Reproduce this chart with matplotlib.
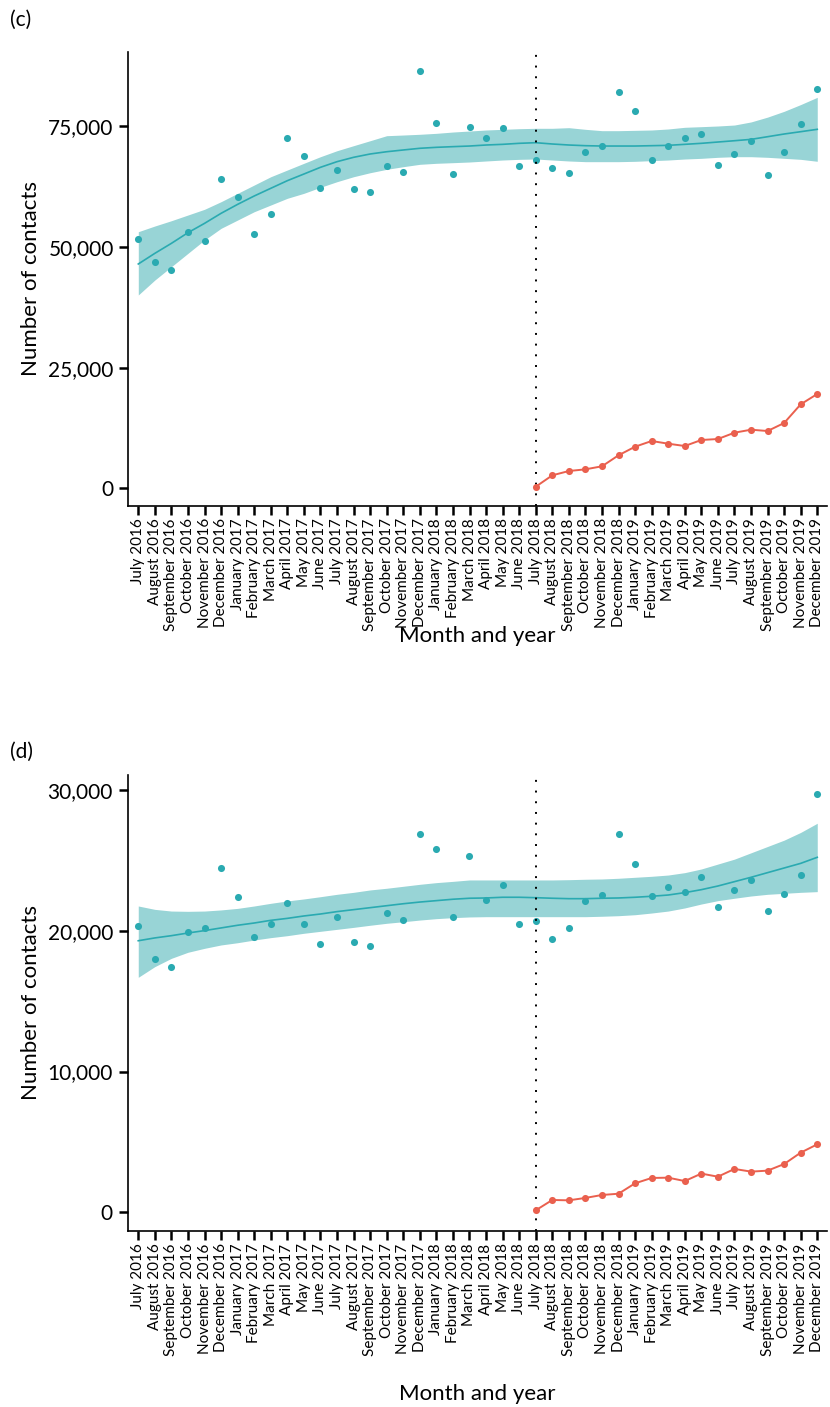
import matplotlib
matplotlib.use("Agg")
import matplotlib.pyplot as plt
from matplotlib.ticker import FuncFormatter
from matplotlib.transforms import ScaledTranslation

plt.rcParams['font.family'] = ['Lato', 'DejaVu Sans']

months = ["July 2016", "August 2016", "September 2016", "October 2016", "November 2016",
          "December 2016", "January 2017", "February 2017", "March 2017", "April 2017",
          "May 2017", "June 2017", "July 2017", "August 2017", "September 2017",
          "October 2017", "November 2017", "December 2017", "January 2018", "February 2018",
          "March 2018", "April 2018", "May 2018", "June 2018", "July 2018", "August 2018",
          "September 2018", "October 2018", "November 2018", "December 2018", "January 2019",
          "February 2019", "March 2019", "April 2019", "May 2019", "June 2019", "July 2019",
          "August 2019", "September 2019", "October 2019", "November 2019", "December 2019"]
cut_month = "July 2018"

# Panel (c)
c_points = [51590, 46820, 45290, 53030, 51300, 64080, 60290, 52620, 56830, 72640,
            68780, 62150, 65880, 61940, 61380, 66770, 65460, 86390, 75740, 65170,
            74790, 72640, 74700, 66770, 68010, 66360, 65380, 69730, 70910, 82040,
            78170, 68010, 70980, 72640, 73340, 66910, 69320, 72010, 64910, 69610,
            75410, 82790]
c_fit = [46470, 48680, 50750, 52960, 54890, 56970, 58830, 60560, 62150, 63730,
         65110, 66500, 67670, 68570, 69260, 69730, 70090, 70440, 70640, 70780,
         70910, 71120, 71260, 71470, 71600, 71330, 71120, 70980, 70910, 70910,
         70910, 70980, 71050, 71260, 71470, 71740, 72010, 72290, 72840, 73400,
         73880, 74370]
c_upper = [53160, 54340, 55440, 56620, 57800, 59380, 61110, 62830, 64550, 65940,
           67330, 68700, 69940, 70980, 72010, 73050, 73190, 73340, 73540, 73810,
           74020, 74230, 74370, 74500, 74580, 74580, 74710, 74370, 74090, 74090,
           74160, 74230, 74440, 74790, 74920, 75060, 75260, 75900, 76900, 78100,
           79500, 81000]
c_lower = [40050, 43150, 45910, 48680, 51440, 53860, 55580, 57300, 58690, 60080,
           61110, 62360, 63520, 64550, 65380, 66080, 66630, 67120, 67330, 67460,
           67600, 67810, 68010, 68150, 68220, 68010, 67810, 67670, 67670, 67670,
           67740, 67880, 68010, 68220, 68360, 68570, 68700, 68700, 68570, 68360,
           68150, 67750]
c_red = [330, 2690, 3580, 3930, 4560, 6840, 8620, 9800, 9240, 8760, 10010, 10210,
         11520, 12140, 11870, 13530, 17400, 19540]

# Panel (d)
d_points = [20330, 17980, 17460, 19950, 20180, 24450, 22430, 19550, 20470, 21980,
            20510, 19070, 20970, 19210, 18900, 21300, 20750, 26890, 25820, 21010,
            25350, 22170, 23260, 20470, 20730, 19450, 20180, 22130, 22550, 26870,
            24730, 22480, 23120, 22740, 23830, 21700, 22910, 23620, 21440, 22600,
            23950, 29710]
d_fit = [19300, 19500, 19660, 19850, 20020, 20210, 20400, 20560, 20750, 20890,
         21060, 21200, 21370, 21510, 21650, 21790, 21930, 22050, 22150, 22250,
         22320, 22340, 22390, 22390, 22360, 22320, 22290, 22290, 22320, 22340,
         22390, 22460, 22550, 22720, 22930, 23190, 23500, 23810, 24140, 24470,
         24800, 25230]
d_upper = [21770, 21530, 21410, 21390, 21410, 21490, 21600, 21770, 21960, 22130,
           22270, 22430, 22600, 22740, 22910, 23030, 23170, 23310, 23430, 23520,
           23620, 23620, 23620, 23620, 23620, 23620, 23640, 23670, 23690, 23740,
           23810, 23880, 23970, 24140, 24400, 24750, 25100, 25550, 26000, 26450,
           27000, 27650]
d_lower = [16700, 17460, 18050, 18480, 18760, 19000, 19160, 19350, 19520, 19660,
           19830, 19970, 20110, 20250, 20400, 20540, 20650, 20770, 20870, 20940,
           20990, 21010, 21010, 21010, 21010, 21010, 21010, 21010, 21040, 21080,
           21150, 21270, 21410, 21630, 21910, 22150, 22320, 22480, 22600, 22670,
           22740, 22790]
d_red = [140, 875, 850, 1020, 1230, 1320, 2060, 2440, 2460, 2220, 2750, 2530,
         3080, 2890, 2960, 3430, 4240, 4830]

c_yticks = [0, 25000, 50000, 75000]
d_yticks = [0, 10000, 20000, 30000]

TEAL = '#2AAAB1'
BAND = '#98D4D6'
RED = '#EA604E'

W, H = 830, 1407
fig = plt.figure(figsize=(W / 100, H / 100), dpi=100)


def px_axes(left, right, top, bottom):
    return fig.add_axes([left / W, 1 - bottom / H, (right - left) / W, (bottom - top) / H])


def draw(ax, pts, fit, lo, up, red, yticks, ylim, xlim, xlab_y):
    x = list(range(len(months)))
    cut = months.index(cut_month)
    xr = list(range(cut, cut + len(red)))
    ax.fill_between(x, lo, up, color=BAND, linewidth=0, zorder=1)
    ax.plot(x, fit, color=TEAL, lw=1.2, zorder=2)
    ax.scatter(x, pts, s=26, color=TEAL, linewidths=0, zorder=3)
    ax.axvline(cut, color='black', lw=1.4, linestyle=(0, (1, 4.5)), zorder=4)
    ax.plot(xr, red, color=RED, lw=1.4, zorder=5)
    ax.scatter(xr, red, s=26, color=RED, linewidths=0, zorder=6)
    ax.set_xlim(*xlim)
    ax.set_ylim(*ylim)
    ax.set_yticks(yticks)
    ax.yaxis.set_major_formatter(FuncFormatter(lambda v, p: f"{int(v):,}"))
    ax.set_xticks(x)
    ax.set_xticklabels(months, rotation=90, ha='center', va='top', fontsize=11)
    off = ScaledTranslation(0.08, 0, fig.dpi_scale_trans)
    for lab in ax.get_xticklabels():
        lab.set_transform(lab.get_transform() + off)
    for s in ['top', 'right']:
        ax.spines[s].set_visible(False)
    for s in ['left', 'bottom']:
        ax.spines[s].set_linewidth(1.2)
        ax.spines[s].set_color('black')
    ax.tick_params(axis='both', length=6.5, width=1.8, color='black')
    ax.tick_params(axis='x', pad=2.5)
    ax.tick_params(axis='y', labelsize=15, pad=4)
    ax.set_xlabel("Month and year", fontsize=16)
    ax.xaxis.set_label_coords(0.5, xlab_y)
    ax.set_ylabel("Number of contacts", fontsize=16, labelpad=5)


ax_c = px_axes(128.3, 826.7, 52, 505.7)
draw(ax_c, c_points, c_fit, c_lower, c_upper, c_red, c_yticks, (-3605, 90390),
     (-0.604, 41.57), -(626 - 505.7) / 453.7)

ax_d = px_axes(127.5, 826.7, 775, 1231)
draw(ax_d, d_points, d_fit, d_lower, d_upper, d_red, d_yticks, (-1330, 31080),
     (-0.65, 41.57), -(1384 - 1231) / 456)

fig.text(10 / W, 1 - 20 / H, "(c)", fontsize=15, va='center', ha='left')
fig.text(10 / W, 1 - 752 / H, "(d)", fontsize=15, va='center', ha='left')

fig.savefig("out.png", dpi=100)
